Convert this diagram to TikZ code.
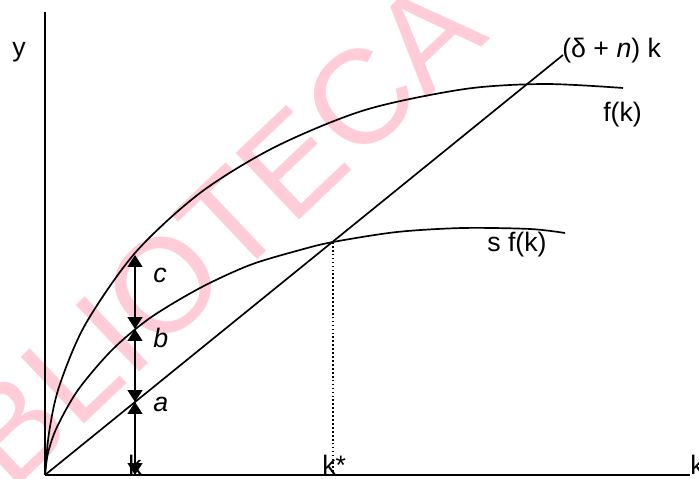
\documentclass[tikz,border=0pt]{standalone}
\usepackage{fontspec}
\setmainfont{Liberation Sans}
\usepackage{tikz}
\usetikzlibrary{arrows.meta}
\definecolor{wmark}{RGB}{255,204,216}
\tikzset{
  axisline/.style={line width=1.5pt},
  curveline/.style={line width=1.2pt},
  lab/.style={anchor=base west,inner sep=0pt,font=\fontsize{19}{22}\selectfont},
  seg/.style={line width=1.5pt,{Triangle[length=8.5pt,width=10.5pt]}-{Triangle[length=8.5pt,width=10.5pt]}},
}

\begin{document}
\begin{tikzpicture}[x=0.025cm,y=0.025cm]
  \useasboundingbox (-45,-4) rectangle (654,475);
  % watermark
  \node[rotate=43.5,anchor=base west,inner sep=0pt,text=wmark,font=\fontsize{95}{95}\selectfont] (wm) at (-125,-105) {BIBLIOTECA};

  \coordinate (O) at (0,0);
  \coordinate (ytop) at (0,463);
  \coordinate (xend) at (645,0);
  \draw[axisline] (O) -- (ytop);
  \draw[axisline] (O) -- (xend);
  \node[lab] (ylab) at (-33,418) {y};
  \node[lab] (klab) at (xend) {k};

  % f(k), s f(k) and the line
  \draw[curveline] plot[smooth] coordinates {(0,0) (4,42) (14,88) (40,150) (90,222) (155,282) (230,328) (320,365) (420,386) (500,391) (578,387)};
  \draw[curveline] plot[smooth] coordinates {(0,0) (3,22) (12,48) (33,85) (67,125) (105,157) (155,187) (205,210) (255,225) (288,233) (352,243) (418,247) (485,246) (520,242)};
  \coordinate (lend) at (518,420);
  \draw[curveline] (O) -- (lend);
  \node[lab] (llab) at (517,417) {(δ + \textit{n}) k};
  \node[lab] (flab) at (558,353) {f(k)};
  \node[lab] (sflab) at (442,223) {s f(k)};

  % steady state
  \coordinate (ss) at (288,233);
  \coordinate (kst) at (288,0);
  \draw[line width=0.9pt,dash pattern=on 1.2pt off 1.6pt] (ss) -- (kst);
  \node[lab] (kstlab) at (277,0) {k*};

  % a, b, c
  \coordinate (pk) at (90,0);
  \coordinate (pa) at (90,73);
  \coordinate (pb) at (90,146);
  \coordinate (pc) at (90,220);
  \node[lab] (klab2) at (83,0) {k};
  \draw[seg] (pk) -- (pa);
  \draw[seg] (pa) -- (pb);
  \draw[seg] (pb) -- (pc);
  \node[lab] (alab) at (108,63) {\textit{a}};
  \node[lab] (blab) at (108,127) {\textit{b}};
  \node[lab] (clab) at (108,192) {\textit{c}};
\end{tikzpicture}
\end{document}
